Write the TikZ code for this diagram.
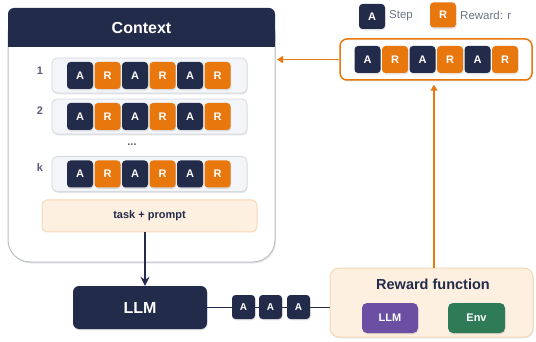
\documentclass[tikz,border=0pt]{standalone}
\usepackage{fontspec}
\setmainfont{Liberation Sans}
\usetikzlibrary{arrows.meta,shadows,calc}
\definecolor{navy}{HTML}{232B4A}
\definecolor{orng}{HTML}{E8770E}
\definecolor{peach}{HTML}{FEF0E0}
\definecolor{peachline}{HTML}{F6D8B6}
\definecolor{stripfill}{HTML}{F3F5F9}
\definecolor{stripline}{HTML}{D5D9E0}
\definecolor{boxline}{HTML}{BCC0C8}
\definecolor{labelgray}{HTML}{5B6070}
\definecolor{legendgray}{HTML}{6E7385}
\definecolor{purp}{HTML}{6A4FA2}
\definecolor{grn}{HTML}{2F7B58}

\tikzset{
  softshadow/.style={drop shadow={opacity=0.22,shadow xshift=0.6pt,shadow yshift=-1.3pt}},
  tile/.style={rounded corners=3.5pt, minimum width=26pt, minimum height=27pt, inner sep=0pt,
    text=white, font=\fontsize{11}{13}\selectfont\bfseries, softshadow},
  tileA/.style={tile, fill=navy},
  tileR/.style={tile, fill=orng},
  smalltile/.style={tileA, minimum width=23pt, minimum height=24pt, font=\fontsize{10}{12}\selectfont\bfseries},
  stripbox/.style={rounded corners=5pt, fill=stripfill, draw=stripline, line width=0.8pt,
    minimum width=195pt, minimum height=35pt, softshadow},
  rowlabel/.style={text=labelgray, font=\fontsize{11}{13}\selectfont\bfseries},
  legendtext/.style={anchor=west, inner sep=0pt, text=legendgray, font=\fontsize{11.5}{13}\selectfont},
  peachbox/.style={fill=peach, draw=peachline, line width=1pt},
  innerbox/.style={rounded corners=5pt, minimum width=56pt, minimum height=30pt, text=white,
    font=\fontsize{11}{13}\selectfont\bfseries, softshadow},
  navyline/.style={navy, line width=1.3pt},
  orangearrow/.style={orng, line width=1.4pt, -{Triangle[length=6pt,width=7pt]}}
}

\begin{document}
\begin{tikzpicture}[x=1pt,y=-1pt]
\useasboundingbox (0,0) rectangle (536,342);

% context panel: white body, navy header
\filldraw[fill=white, draw=boxline, line width=1pt, rounded corners=22pt,
  drop shadow={opacity=0.18,shadow xshift=1pt,shadow yshift=-1.5pt}]
  (8,12) -- (8,262) -- (275,262) -- (275,12) -- cycle;
\fill[navy] (8,30) rectangle (275,47);
\node[fill=navy, rounded corners=6pt, minimum width=267pt, minimum height=39pt, inner sep=0pt,
  text=white, font=\fontsize{16}{19}\selectfont\bfseries] (ctx) at (141.5,27.5) {Context};
\coordinate (ctxR) at (275,61);

% stored trajectories
\foreach \r/\y/\lab/\ly in {1/75.5/1/71, 2/116.5/2/111, 3/174/k/168}{
  \node[stripbox] (strip\r) at (149.5,\y) {};
  \node[rowlabel] (lab\r) at (40,\ly) {\lab};
  \foreach \i/\s/\c in {1/tileA/A,2/tileR/R,3/tileA/A,4/tileR/R,5/tileA/A,6/tileR/R}{
    \pgfmathsetmacro{\tx}{80+(\i-1)*27.5}
    \node[\s] (t\r\i) at (\tx,\y) {\c};
  }
}
\node[rowlabel] (dots) at (132,145) {...};

% task + prompt
\node[peachbox, rounded corners=5pt, minimum width=215pt, minimum height=32pt,
  text=navy, font=\fontsize{11}{13}\selectfont\bfseries] (tp) at (149.5,216) {task + prompt};

% legend
\node[tileA, minimum height=25pt] (legA) at (372,16.5) {A};
\node[legendtext] (legAtxt) at (389,16) {Step};
\node[tileR, minimum height=25pt] (legR) at (443,15) {R};
\node[legendtext] (legRtxt) at (460,15) {Reward: r};

% new trajectory
\node[draw=orng, line width=1.5pt, fill=white, rounded corners=7pt,
  minimum width=192pt, minimum height=41pt, softshadow] (traj) at (436,59.5) {};
\foreach \i/\s/\c in {1/tileA/A,2/tileR/R,3/tileA/A,4/tileR/R,5/tileA/A,6/tileR/R}{
  \pgfmathsetmacro{\tx}{367.5+(\i-1)*27.5}
  \node[\s] (n\i) at (\tx,59.5) {\c};
}

% LLM
\node[fill=navy, rounded corners=6pt, minimum width=134pt, minimum height=43pt,
  text=white, font=\fontsize{16}{19}\selectfont\bfseries, softshadow] (llm) at (140,307.5) {LLM};

% reward function
\node[peachbox, rounded corners=9pt, minimum width=203pt, minimum height=69pt, softshadow] (rew) at (431.5,302.5) {};
\node[text=navy, font=\fontsize{14.5}{17}\selectfont\bfseries] (rewtitle) at (433,284) {Reward function};
\node[innerbox, fill=purp] (rllm) at (390,318) {LLM};
\node[innerbox, fill=grn, minimum width=57pt] (renv) at (476.5,318) {Env};

% connectors
\draw[navyline] (llm.east) -- (rew.west |- llm.east);
\node[smalltile] (s1) at (243.5,307) {A};
\node[smalltile] (s2) at (270.5,307) {A};
\node[smalltile] (s3) at (298.5,307) {A};

\draw[navyline, -{Stealth[length=9pt,width=9pt,inset=3pt]}]
  ([xshift=5pt]llm.north |- tp.south) -- ([xshift=5pt]llm.north);
\draw[orangearrow, shorten >=4pt] ([xshift=2.5pt]rew.north) -- ([xshift=2.5pt]rew.north |- traj.south);
\draw[orangearrow, shorten >=2pt] (traj.west) -- (traj.west -| ctxR);
\end{tikzpicture}
\end{document}
